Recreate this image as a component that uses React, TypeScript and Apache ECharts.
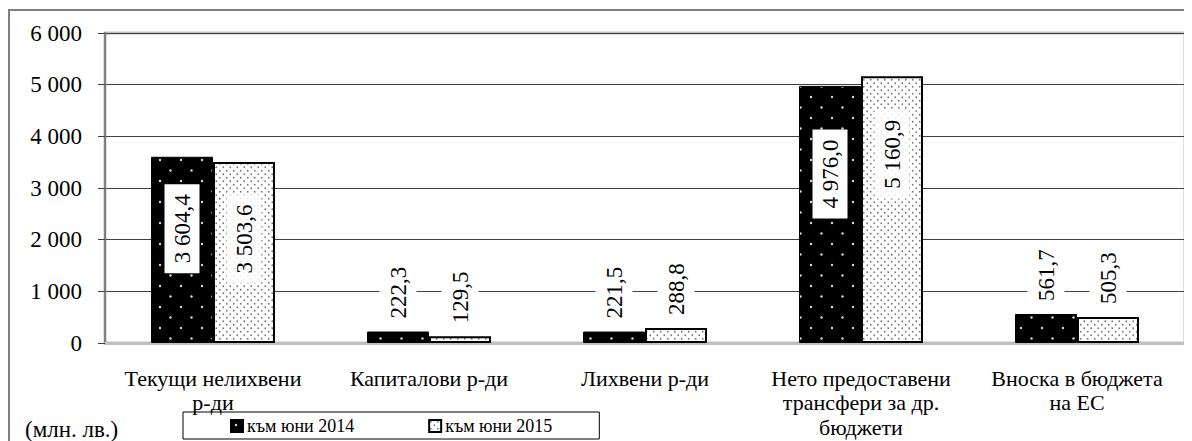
import React, { useEffect, useRef } from "react";
import * as echarts from "echarts";

const categories = [
  "Текущи нелихвени\nр-ди",
  "Капиталови р-ди",
  "Лихвени р-ди",
  "Нето предоставени\nтрансфери за др.\nбюджети",
  "Вноска в бюджета\nна ЕС",
];
const seriesNames = ["към юни 2014", "към юни 2015"];
const values2014 = [3604.4, 222.3, 221.5, 4976.0, 561.7];
const values2015 = [3503.6, 129.5, 288.8, 5160.9, 505.3];
const yMin = 0;
const yMax = 6000;
const yInterval = 1000;
const unitLabel = "(млн. лв.)";

// label offsets (px below bar top) for labels placed inside tall bars
const insideOffset2014 = [72, 0, 0, 88, 0];
const insideOffset2015 = [77, 0, 0, 78, 0];

const FONT = "'Liberation Serif', 'Times New Roman', serif";
const BIG = 23;

function groupThousands(intStr: string): string {
  return intStr.replace(/\B(?=(\d{3})+(?!\d))/g, " ");
}
function fmtValue(v: number): string {
  const [i, d] = v.toFixed(1).split(".");
  return groupThousands(i) + "," + d;
}
function fmtAxis(v: number): string {
  return groupThousands(String(Math.round(v)));
}

function makePattern(
  tile: number,
  bg: string,
  dot: string,
  r: number,
  pts: Array<[number, number]>
) {
  const c = document.createElement("canvas");
  c.width = tile;
  c.height = tile;
  const ctx = c.getContext("2d")!;
  ctx.fillStyle = bg;
  ctx.fillRect(0, 0, tile, tile);
  ctx.fillStyle = dot;
  pts.forEach(([x, y]) => {
    ctx.beginPath();
    ctx.arc(x, y, r, 0, Math.PI * 2);
    ctx.fill();
  });
  return c;
}

export default function App() {
  const ref = useRef<HTMLDivElement>(null);
  useEffect(() => {
    if (!ref.current) return;
    const chart = echarts.init(ref.current, undefined, { renderer: "svg" });

    const pat1 = makePattern(21, "#000000", "#d8d8d8", 1.2, [
      [5, 5],
      [15.5, 15.5],
    ]);
    const pat2 = makePattern(7, "#ffffff", "#7a7a7a", 0.9, [
      [1.75, 1.75],
      [5.25, 5.25],
    ]);

    const buildData = (vals: number[], offsets: number[], insideBg: string) =>
      vals.map((v, i) => {
        if (v >= 1000) {
          return {
            value: v,
            label: {
              show: true,
              position: ["50%", offsets[i]],
              rotate: 90,
              align: "center",
              verticalAlign: "middle",
              backgroundColor: insideBg,
              padding: [6, 10],
            },
          };
        }
        return {
          value: v,
          label: {
            show: true,
            position: "top",
            distance: 10,
            rotate: 90,
            align: "left",
            verticalAlign: "middle",
            backgroundColor: "#ffffff",
            padding: [7, 3],
          },
        };
      });

    const labelBase = {
      show: true,
      formatter: (p: any) => fmtValue(p.value),
      fontFamily: FONT,
      fontSize: BIG,
      color: "#000",
      lineHeight: BIG,
    };

    chart.setOption({
      animation: false,
      textStyle: { fontFamily: FONT },
      grid: {
        left: 97,
        right: 7,
        top: 25,
        bottom: 98,
        show: true,
        borderColor: "#c0c0c0",
        borderWidth: 3,
        backgroundColor: "transparent",
      },
      legend: {
        data: seriesNames,
        left: 175,
        top: 404,
        orient: "horizontal",
        icon: "rect",
        itemWidth: 12,
        itemHeight: 12,
        itemGap: 74,
        padding: [5, 47, 4, 47],
        borderColor: "#000",
        borderWidth: 1,
        borderRadius: 0,
        textStyle: {
          fontFamily: FONT,
          fontSize: 18,
          color: "#000",
          lineHeight: 18,
          padding: [0, 0, 0, -1],
        },
      },
      xAxis: {
        type: "category",
        data: categories,
        axisLine: { lineStyle: { color: "#c0c0c0", width: 3 } },
        axisTick: { show: false },
        axisLabel: {
          interval: 0,
          margin: 23,
          fontFamily: FONT,
          fontSize: 22,
          lineHeight: 24.5,
          color: "#000",
        },
      },
      yAxis: {
        type: "value",
        min: yMin,
        max: yMax,
        interval: yInterval,
        axisLine: { show: true, lineStyle: { color: "#808080", width: 2 } },
        axisTick: { show: true, length: 7, lineStyle: { color: "#404040" } },
        splitLine: { lineStyle: { color: "#404040", width: 1 } },
        axisLabel: {
          margin: 23,
          fontFamily: FONT,
          fontSize: BIG,
          color: "#000",
          formatter: (v: number) => fmtAxis(v),
        },
      },
      series: [
        {
          name: seriesNames[0],
          type: "bar",
          barWidth: 62,
          barGap: "0%",
          itemStyle: {
            color: { image: pat1, repeat: "repeat" },
            borderColor: "#000",
            borderWidth: 1,
          },
          label: labelBase,
          data: buildData(values2014, insideOffset2014, "#ffffff"),
        },
        {
          name: seriesNames[1],
          type: "bar",
          barWidth: 62,
          barGap: "0%",
          itemStyle: {
            color: { image: pat2, repeat: "repeat" },
            borderColor: "#000",
            borderWidth: 2,
          },
          label: labelBase,
          data: buildData(values2015, insideOffset2015, "rgba(255,255,255,0.85)"),
        },
      ],
      graphic: [
        {
          type: "rect",
          z: 100,
          silent: true,
          shape: { x: 1, y: 2, width: 1400, height: 700 },
          style: { fill: "none", stroke: "#808080", lineWidth: 2 },
        },
        {
          type: "text",
          left: 17,
          top: 410,
          style: {
            text: unitLabel,
            font: `${BIG}px ${FONT}`,
            fill: "#000",
          },
        },
      ],
    });
    return () => chart.dispose();
  }, []);
  return <div ref={ref} style={{ width: 1184, height: 433 }} />;
}
